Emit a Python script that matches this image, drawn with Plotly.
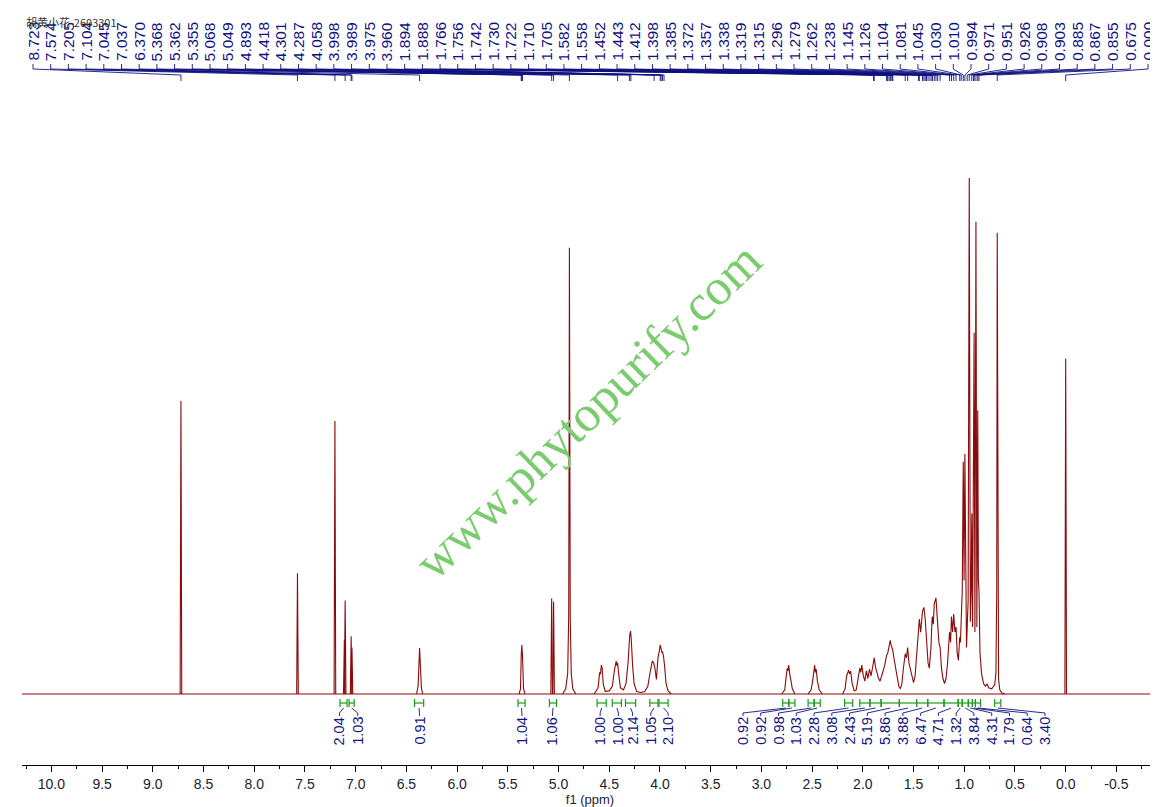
import numpy as np
import plotly.graph_objects as go

# ---------------- data ----------------
title_text = "胡黄小花-2603301"

# picked peak shifts listed along the top (ppm)
peak_labels = [
    8.723, 7.574, 7.205, 7.104, 7.045, 7.037, 6.370, 5.368, 5.362, 5.355,
    5.068, 5.049, 4.893, 4.418, 4.301, 4.287, 4.058, 3.998, 3.989, 3.975,
    3.960, 1.894, 1.888, 1.766, 1.756, 1.742, 1.730, 1.722, 1.710, 1.705,
    1.582, 1.558, 1.452, 1.443, 1.412, 1.398, 1.385, 1.372, 1.357, 1.338,
    1.319, 1.315, 1.296, 1.279, 1.262, 1.238, 1.145, 1.126, 1.104, 1.081,
    1.045, 1.030, 1.010, 0.994, 0.971, 0.951, 0.926, 0.908, 0.903, 0.885,
    0.867, 0.855, 0.675, 0.000,
]

# sharp lines: shift (ppm) and height (% of the tallest line)
line_ppm = [8.723, 7.574, 7.205, 7.112, 7.104, 7.045, 7.037, 5.068, 5.049, 0.000]
line_int = [56.8, 23.4, 52.9, 10.5, 18.1, 11.2, 9.0, 18.5, 17.9, 65.0]

# multiplets / broad regions, traced as (ppm, %) vertices
band_637_ppm = [6.40, 6.385, 6.377, 6.370, 6.366, 6.360, 6.352, 6.34]
band_637_int = [0.0, 1.5, 5.5, 8.9, 7.0, 5.0, 1.2, 0.0]

band_536_ppm = [5.39, 5.375, 5.368, 5.362, 5.355, 5.345, 5.33]
band_536_int = [0.0, 1.0, 7.5, 9.5, 7.2, 1.0, 0.0]

band_489_ppm = [4.96, 4.93, 4.91, 4.90, 4.895, 4.893, 4.890, 4.885, 4.875, 4.86, 4.83]
band_489_int = [0.0, 1.0, 4.0, 15.0, 60.0, 86.5, 60.0, 15.0, 4.0, 1.0, 0.0]

band_440_ppm = [
    4.65, 4.61, 4.595, 4.587, 4.578, 4.570, 4.560, 4.54, 4.50, 4.47, 4.45,
    4.440, 4.432, 4.425, 4.418, 4.405, 4.39, 4.36, 4.335, 4.315, 4.305,
    4.298, 4.290, 4.283, 4.27, 4.255, 4.23, 4.19, 4.15, 4.12, 4.095, 4.075,
    4.062, 4.050, 4.035, 4.020, 4.005, 3.998, 3.989, 3.982, 3.975, 3.965,
    3.955, 3.94, 3.92, 3.89,
]
band_440_int = [
    0.0, 1.2, 4.2, 3.8, 5.6, 5.0, 2.0, 0.5, 0.6, 1.5, 4.5,
    5.8, 6.4, 5.5, 6.0, 3.5, 1.2, 0.8, 2.0, 6.0, 10.5,
    11.5, 12.2, 10.5, 5.5, 2.0, 0.5, 0.3, 0.5, 1.5, 4.5, 6.4,
    6.0, 5.0, 2.8, 7.0, 8.5, 9.5, 8.8, 8.0, 8.2, 7.3,
    5.5, 2.0, 0.6, 0.0,
]

band_273_ppm = [2.80, 2.77, 2.755, 2.745, 2.738, 2.730, 2.722, 2.710, 2.695, 2.67]
band_273_int = [0.0, 0.8, 3.5, 5.0, 4.5, 5.6, 4.0, 2.8, 1.0, 0.0]

band_247_ppm = [2.54, 2.51, 2.495, 2.482, 2.475, 2.468, 2.460, 2.448, 2.43, 2.40]
band_247_int = [0.0, 0.8, 2.5, 4.5, 5.6, 4.2, 4.8, 2.5, 0.8, 0.0]

band_aliph_ppm = [
    2.20, 2.175, 2.160, 2.150, 2.140, 2.130, 2.120, 2.105, 2.085, 2.065,
    2.045, 2.030, 2.020, 2.010, 1.995, 1.980, 1.965, 1.950, 1.935, 1.920,
    1.905, 1.894, 1.888, 1.875, 1.860, 1.845, 1.830, 1.815, 1.800, 1.785,
    1.766, 1.756, 1.742, 1.730, 1.722, 1.710, 1.705, 1.690, 1.675, 1.660,
    1.645, 1.630, 1.615, 1.600, 1.582, 1.570, 1.558, 1.545, 1.530, 1.515,
    1.500, 1.485, 1.470, 1.452, 1.443, 1.430, 1.412, 1.398, 1.385, 1.372,
    1.357, 1.345, 1.338, 1.328, 1.319, 1.315, 1.305, 1.296, 1.279, 1.270,
    1.262, 1.250, 1.238, 1.225, 1.210, 1.195, 1.180, 1.165, 1.145, 1.135,
    1.126, 1.115, 1.104, 1.092, 1.081, 1.070, 1.058, 1.045, 1.038, 1.030,
    1.020, 1.010, 1.002, 0.994, 0.985, 0.978, 0.971, 0.962, 0.951, 0.940,
    0.932, 0.926, 0.918, 0.908, 0.903, 0.895, 0.885, 0.876, 0.867, 0.861,
    0.855, 0.845, 0.830, 0.810, 0.790, 0.775, 0.760, 0.730, 0.700, 0.688,
    0.680, 0.675, 0.670, 0.662, 0.650, 0.630, 0.600,
]
band_aliph_int = [
    0.0, 1.0, 3.5, 4.2, 4.6, 3.9, 4.4, 2.0, 0.6, 0.8,
    3.0, 5.0, 4.2, 5.6, 3.5, 2.5, 4.5, 3.0, 4.8, 3.5,
    5.0, 6.8, 7.0, 5.2, 4.0, 3.0, 2.5, 3.5, 4.0, 5.5,
    7.5, 7.8, 9.2, 10.4, 9.5, 8.8, 8.5, 6.5, 5.0, 3.0,
    1.5, 1.0, 2.0, 5.0, 7.8, 7.0, 9.0, 6.0, 4.5, 3.0,
    2.2, 3.5, 8.0, 13.0, 14.5, 12.0, 16.0, 16.8, 14.5, 10.5,
    6.0, 5.0, 6.5, 9.0, 14.0, 15.0, 13.5, 17.5, 18.6, 15.0,
    14.5, 10.0, 9.0, 5.0, 3.0, 2.0, 3.0, 6.0, 12.0, 10.0,
    15.0, 12.0, 15.5, 12.0, 13.0, 8.0, 6.5, 11.0, 10.0, 14.0,
    20.0, 45.0, 22.0, 46.5, 15.0, 9.0, 13.0, 18.0, 100.0, 14.0,
    20.0, 35.0, 13.0, 68.0, 70.0, 12.0, 91.5, 13.0, 55.0, 22.0,
    20.0, 8.0, 4.0, 2.0, 1.5, 2.0, 1.2, 1.0, 1.8, 4.0,
    20.0, 89.4, 20.0, 3.0, 0.8, 0.2, 0.0,
]

# integrals: region start / end (ppm) and value
int_left_from = [7.155, 7.065, 6.42, 5.40, 5.09, 4.62, 4.47, 4.34, 4.10, 4.01]
int_left_to = [7.085, 7.015, 6.33, 5.33, 5.02, 4.53, 4.38, 4.24, 4.02, 3.92]
int_left_val = ["2.04", "1.03", "0.91", "1.04", "1.06", "1.00", "1.00", "2.14", "1.05", "2.10"]

int_right_from = [2.79, 2.73, 2.54, 2.48, 2.18, 2.03, 1.93, 1.82, 1.64, 1.47,
                  1.36, 1.20, 1.06, 1.02, 0.96, 0.92, 0.89, 0.70]
int_right_to = [2.73, 2.67, 2.48, 2.42, 2.10, 1.93, 1.82, 1.64, 1.47, 1.36,
                1.20, 1.06, 1.02, 0.96, 0.92, 0.89, 0.84, 0.64]
int_right_val = ["0.92", "0.92", "0.98", "1.03", "2.28", "3.08", "2.43", "5.19", "5.86",
                 "3.88", "6.47", "4.71", "1.32", "3.84", "4.31", "1.79", "0.64", "3.40"]

tick_vals = [10.0, 9.5, 9.0, 8.5, 8.0, 7.5, 7.0, 6.5, 6.0, 5.5, 5.0,
             4.5, 4.0, 3.5, 3.0, 2.5, 2.0, 1.5, 1.0, 0.5, 0.0, -0.5]

# ---------------- layout helpers ----------------
W, H = 1158, 807
ML, MR, MB = 14, 8, 50
X_LEFT, X_RIGHT = 10.29, -0.91
BASE_PX, PX_PER_PCT = 686, 5.16
Y_LO = -(H - MB - BASE_PX) / PX_PER_PCT
Y_HI = BASE_PX / PX_PER_PCT

NAVY = "#10137f"
GREEN = "#1a9a1a"
RED = "#8b0a0a"


def xv(px):
    # pixel column -> ppm
    return X_LEFT - (px - ML) * (X_LEFT - X_RIGHT) / (W - ML - MR)


def yv(px):
    # pixel row -> intensity units
    return (BASE_PX - px) / PX_PER_PCT


fig = go.Figure()

# spectrum
sx, sy = [X_LEFT, X_RIGHT, None], [0, 0, None]
for p, h in zip(line_ppm, line_int):
    sx += [p + 0.008, p, p - 0.008, None]
    sy += [0, h, 0, None]
for bx, by in [(band_637_ppm, band_637_int), (band_536_ppm, band_536_int),
               (band_489_ppm, band_489_int), (band_440_ppm, band_440_int),
               (band_273_ppm, band_273_int), (band_247_ppm, band_247_int),
               (band_aliph_ppm, band_aliph_int)]:
    sx += list(bx) + [None]
    sy += list(by) + [None]
fig.add_trace(go.Scatter(x=sx, y=sy, mode="lines", line=dict(color=RED, width=1.1),
                         hoverinfo="skip", showlegend=False))

# peak labels along the top with their fan of connectors
label_pos = np.linspace(xv(25), xv(1140), len(peak_labels))
cx, cy = [], []
for lp, pk in zip(label_pos, peak_labels):
    cx += [lp, lp, pk, pk, None]
    cy += [yv(56), yv(61), yv(67), yv(73), None]
fig.add_trace(go.Scatter(x=cx, y=cy, mode="lines", line=dict(color=NAVY, width=0.9),
                         hoverinfo="skip", showlegend=False))
for lp, pk in zip(label_pos, peak_labels):
    fig.add_annotation(x=lp, y=yv(55), xref="x", yref="y", text=f"{pk:.3f}",
                       textangle=-90, showarrow=False, xanchor="center", yanchor="bottom",
                       font=dict(family="Liberation Sans", size=15.5, color=NAVY))

# integrals
left_label_pos = [7.16, 6.98, 6.37, 5.36, 5.06, 4.59, 4.41, 4.27, 4.09, 3.92]
right_label_pos = np.linspace(xv(735), xv(1037), len(int_right_val))
gx, gy, nx, ny = [], [], [], []
for a, b in zip(int_left_from + int_right_from, int_left_to + int_right_to):
    gx += [a, a, None, a, b, None, b, b, None]
    gy += [yv(691), yv(699), None, yv(695), yv(695), None, yv(691), yv(699), None]
for a, b, lp in zip(int_left_from + int_right_from, int_left_to + int_right_to,
                    list(left_label_pos) + list(right_label_pos)):
    c = (a + b) / 2
    nx += [c, lp, lp, None]
    ny += [yv(700), yv(705), yv(708), None]
fig.add_trace(go.Scatter(x=nx, y=ny, mode="lines", line=dict(color=NAVY, width=0.9),
                         hoverinfo="skip", showlegend=False))
fig.add_trace(go.Scatter(x=gx, y=gy, mode="lines", line=dict(color=GREEN, width=1.2),
                         hoverinfo="skip", showlegend=False))
for lp, v in zip(list(left_label_pos) + list(right_label_pos), int_left_val + int_right_val):
    fig.add_annotation(x=lp, y=yv(707), xref="x", yref="y", text=v, textangle=-90,
                       showarrow=False, xanchor="center", yanchor="top",
                       font=dict(family="Liberation Sans", size=14.5, color=NAVY))

# watermark
fig.add_annotation(x=xv(580), y=yv(403), xref="x", yref="y", text="www.phytopurify.com",
                   textangle=-44, showarrow=False,
                   font=dict(family="Liberation Serif", size=51, color="#7acc6e"))

# sample name, top left (drawn over the first peak labels, as in the original)
fig.add_annotation(x=xv(16), y=yv(14), xref="x", yref="y", text=title_text,
                   showarrow=False, xanchor="left", yanchor="middle",
                   font=dict(family="Noto Sans CJK SC", size=11, color="#333333"))

fig.update_layout(
    width=W, height=H,
    margin=dict(l=ML, r=MR, t=0, b=MB),
    plot_bgcolor="white", paper_bgcolor="white",
    showlegend=False,
    xaxis=dict(
        range=[X_LEFT, X_RIGHT],
        tickmode="array", tickvals=tick_vals,
        ticktext=[f"{v:.1f}" for v in tick_vals],
        ticks="outside", ticklen=6, tickwidth=1.3, tickcolor="black",
        showline=True, linecolor="black", linewidth=1.3,
        showgrid=False, zeroline=False,
        minor=dict(tickmode="linear", tick0=0.25, dtick=0.5, ticks="outside",
                   ticklen=3, tickwidth=1.2, tickcolor="black", showgrid=False),
        tickfont=dict(family="Liberation Sans", size=14, color="#222233"),
        title=dict(text="f1 (ppm)", standoff=2,
                   font=dict(family="Liberation Sans", size=13, color="#222233")),
    ),
    yaxis=dict(range=[Y_LO, Y_HI], visible=False, fixedrange=True),
)

fig.write_html("out.html")
